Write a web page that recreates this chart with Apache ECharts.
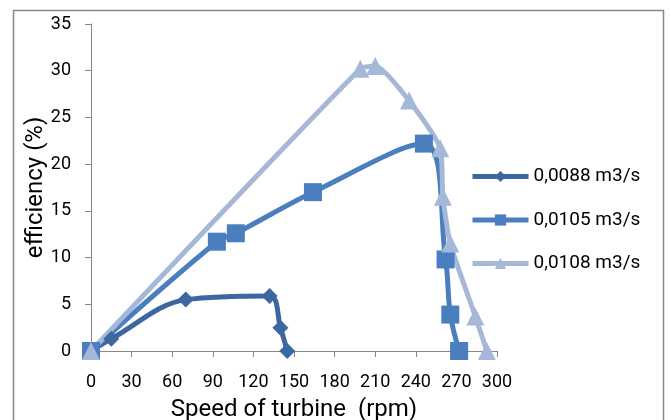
<!DOCTYPE html>
<html>
<head>
<meta charset="utf-8">
<script src="https://cdn.jsdelivr.net/npm/echarts@6/dist/echarts.min.js"></script>
<style>html,body{margin:0;padding:0;background:#fff}#c{width:670px;height:420px}</style>
</head>
<body>
<div id="c"></div>
<script>
const seriesNames = ['0,0088 m3/s', '0,0105 m3/s', '0,0108 m3/s'];
const s1 = [[0, 0], [15, 1.3], [70, 5.5], [132, 5.9], [140, 2.5], [145, 0]];
const s2 = [[0, 0], [93, 11.7], [107, 12.6], [164, 17.0], [246, 22.2], [262, 9.8], [265.5, 3.9], [272, 0]];
const s3 = [[0, 0], [199, 30.2], [210, 30.5], [235, 26.8], [258, 21.7], [260, 16.5], [265.5, 11.5], [284, 3.7], [292.5, 0]];
const xTicks = {min: 0, max: 300, interval: 30};
const yTicks = {min: 0, max: 35, interval: 5};
const colors = ['#3C67A0', '#4A7EBE', '#A5B8D8'];

const chart = echarts.init(document.getElementById('c'));
const font = 'Roboto';
const axisCommon = {
  axisLine: {show: true, lineStyle: {color: '#868686', width: 1}},
  axisTick: {show: true, inside: false, length: 6, lineStyle: {color: '#868686'}},
  splitLine: {show: false},
  nameMoveOverlap: false,
  nameTextStyle: {fontFamily: font, fontSize: 24, color: '#000'}
};
chart.setOption({
  animation: false,
  color: colors,
  graphic: [{type: 'rect', shape: {x: 13.5, y: 10.5, width: 650, height: 430}, style: {fill: 'none', stroke: '#878787', lineWidth: 1.5}, silent: true}],
  grid: {left: 91, right: 173, top: 24, bottom: 69, containLabel: false, outerBoundsMode: 'none'},
  legend: {
    orient: 'vertical', left: 465, top: 162, itemWidth: 56, itemHeight: 14, itemGap: 24.5,
    lineStyle: {width: 5},
    textStyle: {fontFamily: font, fontSize: 19, color: '#000'},
    data: seriesNames
  },
  xAxis: Object.assign({
    type: 'value', min: xTicks.min, max: xTicks.max, interval: xTicks.interval,
    name: 'Speed of turbine  (rpm)', nameLocation: 'middle', nameGap: 47,
    axisLabel: {fontFamily: font, fontSize: 18, color: '#000', margin: 22}
  }, axisCommon),
  yAxis: Object.assign({
    type: 'value', min: yTicks.min, max: yTicks.max, interval: yTicks.interval,
    name: 'efficiency (%)', nameLocation: 'middle', nameGap: 43,
    axisLabel: {fontFamily: font, fontSize: 18, color: '#000', margin: 20}
  }, axisCommon),
  series: [
    {name: seriesNames[0], type: 'line', data: s1, smooth: 0.35, symbol: 'diamond', symbolSize: 16,
     lineStyle: {width: 5, color: colors[0]}, itemStyle: {color: colors[0]}},
    {name: seriesNames[1], type: 'line', data: s2, smooth: 0.35, symbol: 'rect', symbolSize: 18,
     lineStyle: {width: 5, color: colors[1]}, itemStyle: {color: colors[1]}},
    {name: seriesNames[2], type: 'line', data: s3, smooth: 0.2, symbol: 'triangle', symbolSize: 18,
     lineStyle: {width: 5, color: colors[2]}, itemStyle: {color: colors[2]}}
  ]
});
</script>
</body>
</html>
